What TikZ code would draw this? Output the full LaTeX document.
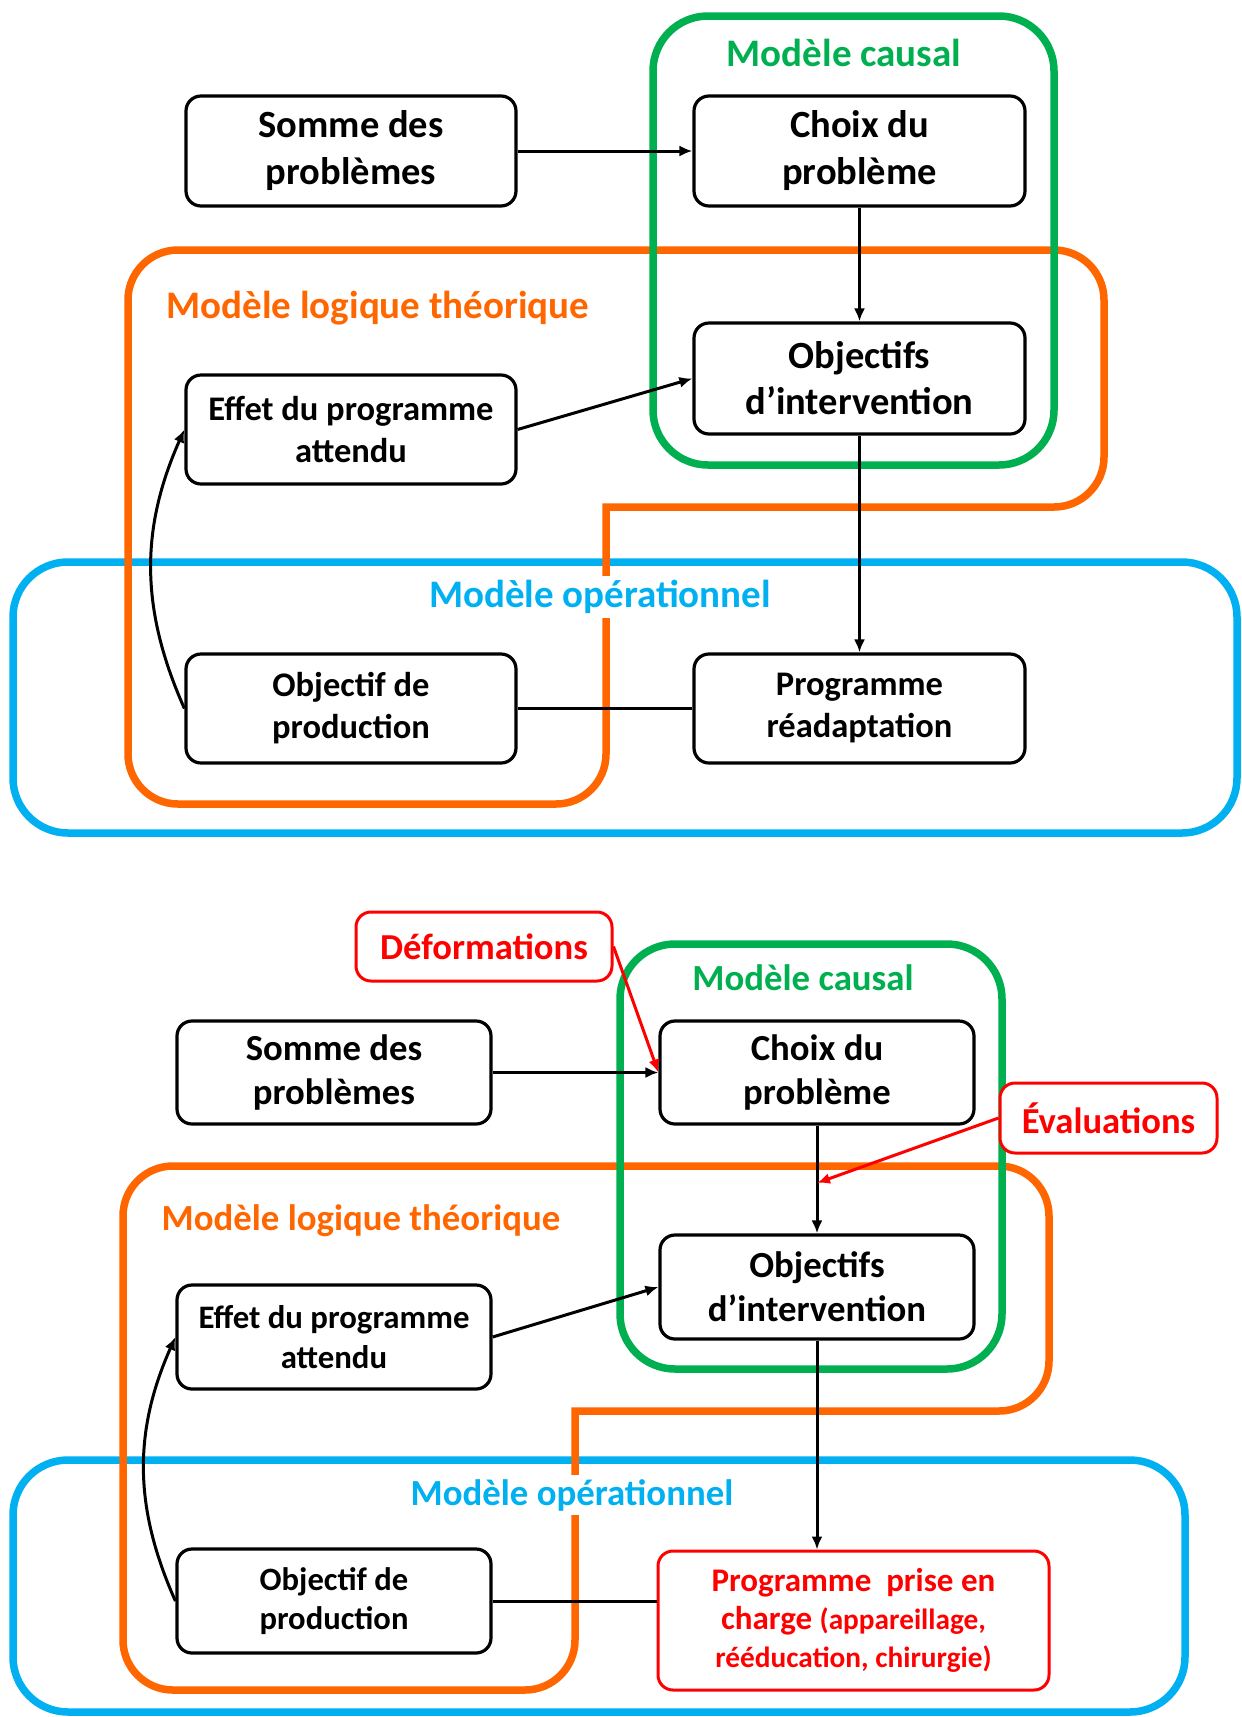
\documentclass[tikz,border=0pt]{standalone}
\usepackage{fontspec}
\setmainfont{Carlito}
\usetikzlibrary{arrows.meta}
\definecolor{cgreen}{HTML}{00B050}
\definecolor{corange}{HTML}{FF6600}
\definecolor{cblue}{HTML}{00B0F0}
\definecolor{cred}{HTML}{FF0000}
\newcommand{\fsz}[2]{\fontsize{#1}{#2}\selectfont\bfseries}
\tikzset{
  box/.style={draw=black, line width=3.2pt, rounded corners=15pt, fill=white, align=center, inner sep=0pt},
  redbox/.style={draw=cred, text=cred, line width=3pt, rounded corners=15pt, fill=white, align=center, inner sep=0pt},
  grp/.style={line width=7.5pt, rounded corners=55pt},
  ttl/.style={align=center, inner sep=4pt},
  arr/.style={line width=3pt, -{Latex[length=13pt,width=11pt]}},
  redarr/.style={draw=cred, line width=3pt, -{Latex[length=13pt,width=11pt]}},
  conn/.style={line width=3pt}
}
\begin{document}
\begin{tikzpicture}[x=1pt,y=-1pt]
\useasboundingbox (0,0) rectangle (1242,1717);
\fill[white] (0,0) rectangle (1242,1717);

% ================= TOP DIAGRAM =================
\draw[grp, draw=cblue] (13,562) rectangle (1237,833);
\draw[grp, draw=corange, line cap=rect, rounded corners=50pt]
  (606,507) -- (606,804) -- (128,804) -- (128,250) -- (1104,250) -- (1104,507) -- (606,507);
\draw[grp, draw=cgreen] (653,16) rectangle (1054,465);

\node[ttl, text=cgreen, font=\fsz{39}{46}] (tcaus1) at (844,53) {Modèle causal};
\node[ttl, text=corange, font=\fsz{39}{46}] (tlog1) at (378,308) {Modèle logique théorique};
\node[ttl, text=cblue, fill=white, font=\fsz{39}{46}] (top1) at (600,597) {Modèle opérationnel};

\node[box, minimum width=330pt, minimum height=110pt, font=\fsz{38.5}{47}] (somme1) at (351,151) {Somme des\\problèmes};
\node[box, minimum width=331pt, minimum height=110pt, font=\fsz{38.5}{47}] (choix1) at (859.5,151) {Choix du\\problème};
\node[box, minimum width=331pt, minimum height=111pt, font=\fsz{38.5}{46}] (obj1) at (859.5,378.5) {Objectifs\\d’intervention};
\node[box, minimum width=330pt, minimum height=109pt, font=\fsz{34.5}{42}] (effet1) at (351,429.5) {Effet du programme\\attendu};
\node[box, minimum width=330pt, minimum height=109pt, font=\fsz{34.5}{42}] (prod1) at (351,708.5) {Objectif de\\production};
\node[box, minimum width=331pt, minimum height=109pt, font=\fsz{34.5}{42}] (prog1) at (859.5,708.5) {Programme\\réadaptation};

\draw[arr] (somme1.east) -- (choix1.west);
\draw[arr] (choix1.south) -- (obj1.north);
\draw[arr] (effet1.east) -- (obj1.west);
\draw[arr] (obj1.south) -- (prog1.north);
\draw[conn] (prod1.east) -- (prog1.west);
\draw[arr] (prod1.west) to[bend left=24] (effet1.west);

% ================= BOTTOM DIAGRAM =================
\draw[grp, draw=cblue] (13,1460) rectangle (1185,1712);
\draw[grp, draw=corange, line cap=rect, rounded corners=50pt]
  (575,1411) -- (575,1690) -- (123,1690) -- (123,1166) -- (1049,1166) -- (1049,1411) -- (575,1411);
\draw[grp, draw=cgreen] (620,944) rectangle (1002,1369);

\node[ttl, text=cgreen, font=\fsz{36.8}{44}] (tcaus2) at (803,978) {Modèle causal};
\node[ttl, text=corange, font=\fsz{36.8}{44}] (tlog2) at (361,1221) {Modèle logique théorique};
\node[ttl, text=cblue, fill=white, font=\fsz{36.8}{44}] (top2) at (572,1495) {Modèle opérationnel};

\node[redbox, minimum width=256pt, minimum height=69pt, font=\fsz{36.6}{44}] (defo) at (484,946.5) {Déformations};
\node[redbox, minimum width=217pt, minimum height=70pt, font=\fsz{36.6}{44}] (eval) at (1108.5,1118) {Évaluations};

\node[box, minimum width=314pt, minimum height=103pt, font=\fsz{36.7}{44}] (somme2) at (334,1072.5) {Somme des\\problèmes};
\node[box, minimum width=314pt, minimum height=103pt, font=\fsz{36.7}{44}] (choix2) at (817,1072.5) {Choix du\\problème};
\node[box, minimum width=314pt, minimum height=104pt, font=\fsz{36.8}{44}] (obj2) at (817,1287) {Objectifs\\d’intervention};
\node[box, minimum width=314pt, minimum height=104pt, font=\fsz{32.8}{39.5}] (effet2) at (334,1337) {Effet du programme\\attendu};
\node[box, minimum width=314pt, minimum height=104pt, font=\fsz{32.6}{39.5}] (prod2) at (334,1601) {Objectif de\\production};
\node[redbox, minimum width=391pt, minimum height=139pt, font=\fsz{33}{38}] (prog2) at (853.5,1620.5)
  {Programme\ \ prise en\\charge {\fsz{29.3}{38}(appareillage,}\\{\fsz{29.3}{36}rééducation, chirurgie)}};

\coordinate (evtip) at (817,1183);
\draw[arr] (somme2.east) -- (choix2.west);
\draw[arr] (choix2.south) -- (obj2.north);
\draw[arr] (effet2.east) -- (obj2.west);
\draw[arr] (obj2.south) -- (obj2.south |- prog2.north);
\draw[conn] (prod2.east) -- (prod2.east -| prog2.west);
\draw[arr] (prod2.west) to[bend left=24] (effet2.west);
\draw[redarr] (defo.east) -- (choix2.west);
\draw[redarr] (eval.west) -- (evtip);
\end{tikzpicture}
\end{document}
